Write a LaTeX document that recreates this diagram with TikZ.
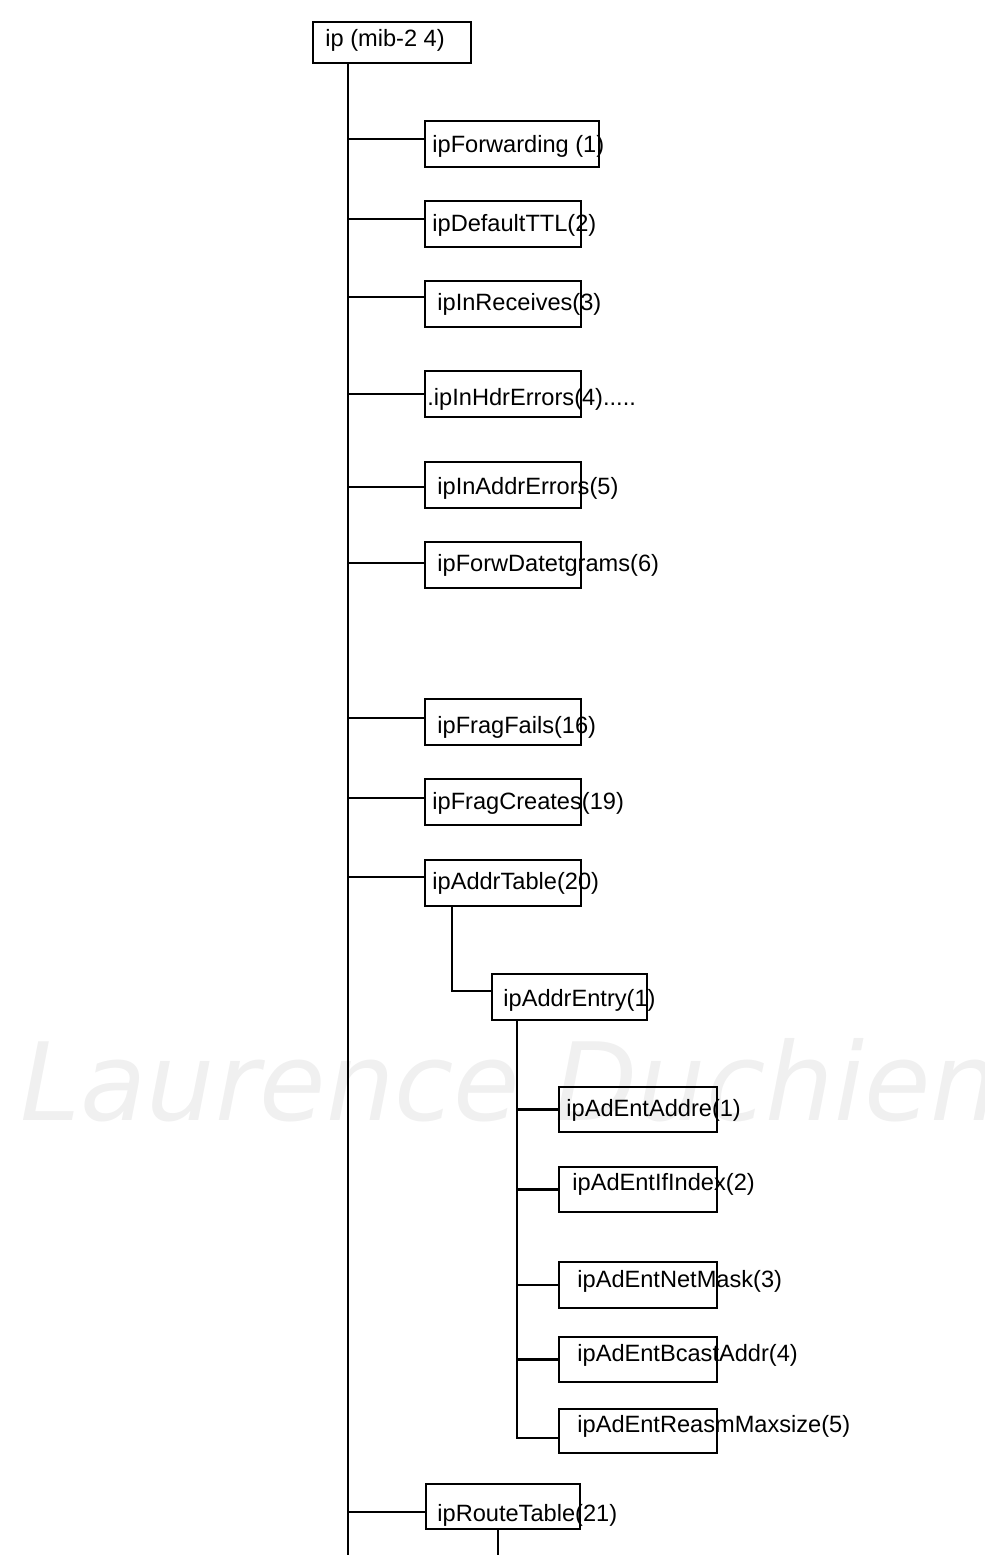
\documentclass[tikz,border=0pt]{standalone}
\usepackage{fontspec}
\setmainfont{Liberation Sans}
\newfontfamily\wmfont{DejaVu Sans}
\begin{document}
\begin{tikzpicture}[x=0.5pt,y=-0.5pt,
  box/.style={draw, line width=1.45pt, inner sep=0pt, minimum height=23pt},
  lbl/.style={anchor=base west, inner sep=0pt, font=\fontsize{11.8}{14}\selectfont},
  link/.style={line width=1.35pt},
  wm/.style={anchor=base west, inner sep=0pt, text=black!6, font=\wmfont\itshape\fontsize{54}{54}\selectfont}]
\useasboundingbox (0,0) rectangle (985,1555);
\clip (0,0) rectangle (985,1555);
% watermark
\node[wm] (wmark) at (20,1120) {Laurence Duchien};
% boxes
\node[box, minimum width=79pt, minimum height=20.5pt] (root) at (392,42.5) {};
\node[box, minimum width=87pt] (b1) at (512,144) {};
\node[box, minimum width=78pt] (b2) at (503,224) {};
\node[box, minimum width=78pt] (b3) at (503,304) {};
\node[box, minimum width=78pt] (b4) at (503,394) {};
\node[box, minimum width=78pt] (b5) at (503,485) {};
\node[box, minimum width=78pt] (b6) at (503,565) {};
\node[box, minimum width=78pt] (b7) at (503,722) {};
\node[box, minimum width=78pt] (b8) at (503,802) {};
\node[box, minimum width=78pt] (b9) at (503,883) {};
\node[box, minimum width=77.5pt] (c1) at (569.5,997) {};
\node[box, minimum width=79pt, minimum height=22.5pt] (d1) at (638,1109.5) {};
\node[box, minimum width=79pt, minimum height=22.5pt] (d2) at (638,1189.5) {};
\node[box, minimum width=79pt] (d3) at (638,1285) {};
\node[box, minimum width=79pt, minimum height=22.5pt] (d4) at (638,1359.5) {};
\node[box, minimum width=79pt, minimum height=22pt] (d5) at (638,1431) {};
\node[box, minimum width=77pt, minimum height=22.5pt] (b10) at (503,1506.5) {};
% labels
\node[lbl] (troot) at (325,46) {ip (mib-2 4)};
\node[lbl] (t1) at (432,152) {ipForwarding (1)};
\node[lbl] (t2) at (432,231) {ipDefaultTTL(2)};
\node[lbl] (t3) at (437,310) {ipInReceives(3)};
\node[lbl] (t4) at (427,405) {.ipInHdrErrors(4).....};
\node[lbl] (t5) at (437,494) {ipInAddrErrors(5)};
\node[lbl] (t6) at (437,571) {ipForwDatetgrams(6)};
\node[lbl] (t7) at (437,733) {ipFragFails(16)};
\node[lbl] (t8) at (432,809) {ipFragCreates(19)};
\node[lbl] (t9) at (432,889) {ipAddrTable(20)};
\node[lbl] (tc1) at (503,1006) {ipAddrEntry(1)};
\node[lbl] (td1) at (566,1116) {ipAdEntAddre(1)};
\node[lbl] (td2) at (572,1190) {ipAdEntIfIndex(2)};
\node[lbl] (td3) at (577,1287) {ipAdEntNetMask(3)};
\node[lbl] (td4) at (577,1361) {ipAdEntBcastAddr(4)};
\node[lbl] (td5) at (577,1432) {ipAdEntReasmMaxsize(5)};
\node[lbl] (t10) at (437,1521) {ipRouteTable(21)};
% trunk
\coordinate (trunk) at (348,63);
\coordinate (trunkend) at (348,1555);
\draw[link] (root.south -| trunk) -- (trunkend);
% branches from trunk
\foreach \n/\s in {b1/2.5pt, b2/2.5pt, b3/3.5pt, b4/0pt, b5/-1pt, b6/1pt, b7/2pt, b8/2pt, b9/3pt, b10/-2.75pt}{
  \path ([yshift=\s]\n.west) coordinate (p\n);
  \draw[link] (p\n -| trunk) -- (p\n);
}
% ipAddrTable -> ipAddrEntry
\coordinate (sub1) at (452,906);
\path ([yshift=3pt]c1.west) coordinate (pc1);
\draw[link] (b9.south -| sub1) |- (pc1);
% ipAddrEntry -> entries
\coordinate (sub2) at (517,1020);
\path (d5.west) ++(0,7) coordinate (pd5);
\draw[link] (c1.south -| sub2) |- (pd5);
\foreach \n in {d1,d2,d3,d4}{
  \draw[link] (\n.west -| sub2) -- (\n.west);
}
% ipRouteTable down
\coordinate (sub3) at (498,1555);
\draw[link] (b10.south -| sub3) -- (sub3);
\end{tikzpicture}
\end{document}
